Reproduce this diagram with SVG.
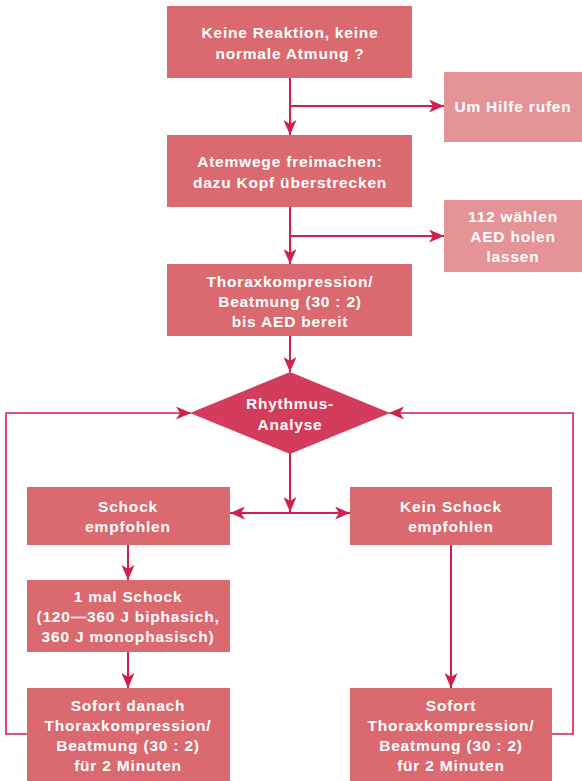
<svg xmlns="http://www.w3.org/2000/svg" width="582" height="781" viewBox="0 0 582 781">
  <style>
    .box { fill: #da6a70; }
    .side { fill: #e49396; }
    .dia { fill: #d33c5a; }
    .lbl { font-family: "Liberation Sans", Arial, sans-serif; font-weight: bold; font-size: 15.5px; letter-spacing: 0.8px; fill: #ffffff; text-anchor: middle; }
    .wire { fill: none; stroke: #d2204e; stroke-width: 2; }
    .loop { fill: none; stroke: #d2204e; stroke-width: 1.6; }
  </style>
  <defs>
    <marker id="arrow" markerUnits="userSpaceOnUse" markerWidth="16" markerHeight="13" refX="15" refY="6.5" orient="auto-start-reverse">
      <path d="M0,0 L15,6.5 L0,13 L4,6.5 Z" fill="#d2204e"/>
    </marker>
  </defs>

  <!-- connectors -->
  <g id="connectors">
    <line class="wire" x1="290" y1="78" x2="290" y2="135" marker-end="url(#arrow)"/>
    <line class="wire" x1="290" y1="106" x2="444" y2="106" marker-end="url(#arrow)"/>
    <line class="wire" x1="290" y1="207" x2="290" y2="264" marker-end="url(#arrow)"/>
    <line class="wire" x1="290" y1="236" x2="444" y2="236" marker-end="url(#arrow)"/>
    <line class="wire" x1="290" y1="336" x2="290" y2="372" marker-end="url(#arrow)"/>
    <line class="wire" x1="290" y1="453" x2="290" y2="512" marker-end="url(#arrow)"/>
    <line class="wire" x1="230" y1="513" x2="350" y2="513" marker-start="url(#arrow)" marker-end="url(#arrow)"/>
    <line class="wire" x1="128" y1="545" x2="128" y2="580" marker-end="url(#arrow)"/>
    <line class="wire" x1="128" y1="652" x2="128" y2="688" marker-end="url(#arrow)"/>
    <line class="wire" x1="451" y1="545" x2="451" y2="688" marker-end="url(#arrow)"/>
    <polyline class="loop" points="27,734 6,734 6,413 191,413" marker-end="url(#arrow)"/>
    <polyline class="loop" points="552,734 573,734 573,413 389,413" marker-end="url(#arrow)"/>
  </g>

  <g id="keine-reaktion">
    <rect class="box" x="167" y="6" width="245" height="72"/>
    <text class="lbl" x="290" y="38">Keine Reaktion, keine</text>
    <text class="lbl" x="290" y="59">normale Atmung ?</text>
  </g>

  <g id="hilfe-rufen">
    <rect class="side" x="444" y="72" width="138" height="70"/>
    <text class="lbl" x="513" y="112">Um Hilfe rufen</text>
  </g>

  <g id="atemwege">
    <rect class="box" x="167" y="135" width="245" height="72"/>
    <text class="lbl" x="290" y="167">Atemwege freimachen:</text>
    <text class="lbl" x="290" y="188">dazu Kopf überstrecken</text>
  </g>

  <g id="notruf-aed">
    <rect class="side" x="444" y="200" width="138" height="72"/>
    <text class="lbl" x="513" y="222">112 wählen</text>
    <text class="lbl" x="513" y="242">AED holen</text>
    <text class="lbl" x="513" y="262">lassen</text>
  </g>

  <g id="thorax-bis-aed">
    <rect class="box" x="167" y="264" width="245" height="72"/>
    <text class="lbl" x="290" y="287">Thoraxkompression/</text>
    <text class="lbl" x="290" y="307">Beatmung (30 : 2)</text>
    <text class="lbl" x="290" y="327">bis AED bereit</text>
  </g>

  <g id="rhythmus-analyse">
    <polygon class="dia" points="290,372 390,413 290,454 190,413"/>
    <text class="lbl" x="290" y="409">Rhythmus-</text>
    <text class="lbl" x="290" y="430">Analyse</text>
  </g>

  <g id="schock-empfohlen">
    <rect class="box" x="27" y="487" width="203" height="58"/>
    <text class="lbl" x="128" y="512">Schock</text>
    <text class="lbl" x="128" y="532">empfohlen</text>
  </g>

  <g id="kein-schock">
    <rect class="box" x="350" y="487" width="202" height="58"/>
    <text class="lbl" x="451" y="512">Kein Schock</text>
    <text class="lbl" x="451" y="532">empfohlen</text>
  </g>

  <g id="ein-schock">
    <rect class="box" x="27" y="580" width="203" height="72"/>
    <text class="lbl" x="128" y="602">1 mal Schock</text>
    <text class="lbl" x="128" y="622">(120—360 J biphasich,</text>
    <text class="lbl" x="128" y="642">360 J monophasisch)</text>
  </g>

  <g id="sofort-danach">
    <rect class="box" x="27" y="688" width="203" height="93"/>
    <text class="lbl" x="128" y="711">Sofort danach</text>
    <text class="lbl" x="128" y="731">Thoraxkompression/</text>
    <text class="lbl" x="128" y="751">Beatmung (30 : 2)</text>
    <text class="lbl" x="128" y="771">für 2 Minuten</text>
  </g>

  <g id="sofort">
    <rect class="box" x="350" y="688" width="202" height="93"/>
    <text class="lbl" x="451" y="711">Sofort</text>
    <text class="lbl" x="451" y="731">Thoraxkompression/</text>
    <text class="lbl" x="451" y="751">Beatmung (30 : 2)</text>
    <text class="lbl" x="451" y="771">für 2 Minuten</text>
  </g>
</svg>
